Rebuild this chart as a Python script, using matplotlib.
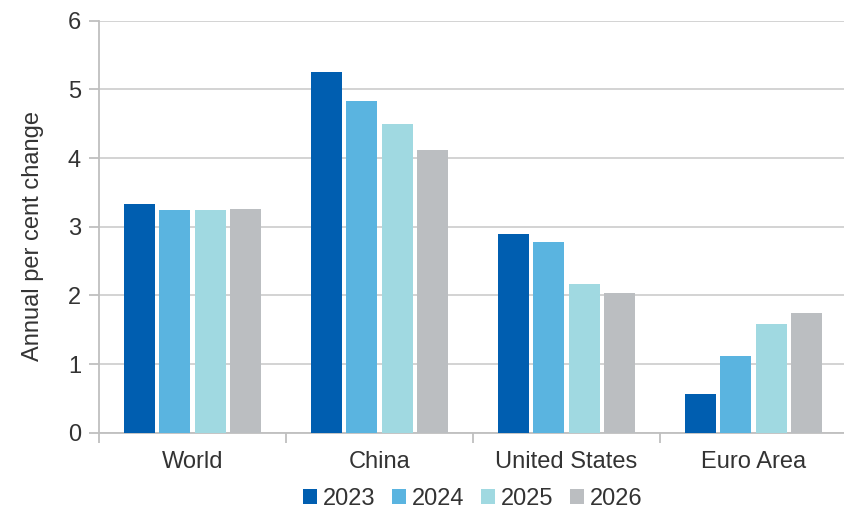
import numpy as np
import matplotlib
matplotlib.use("Agg")
import matplotlib.pyplot as plt
from matplotlib.ticker import FixedLocator

plt.rcParams["font.family"] = ["Liberation Sans", "DejaVu Sans"]

regions = ["World", "China", "United States", "Euro Area"]
years = ["2023", "2024", "2025", "2026"]
growth_2023 = [3.33, 5.25, 2.89, 0.56]
growth_2024 = [3.24, 4.83, 2.77, 1.12]
growth_2025 = [3.25, 4.49, 2.16, 1.59]
growth_2026 = [3.26, 4.11, 2.03, 1.75]
series = [growth_2023, growth_2024, growth_2025, growth_2026]
colors = ["#005EB0", "#5AB4E0", "#A0D9E1", "#BBBEC1"]

W, H = 845, 512
fig = plt.figure(figsize=(W / 100, H / 100), dpi=100)
ax = fig.add_axes([99 / W, (H - 432.7) / H, 748 / W, 412 / H])

x = np.arange(len(regions))
slot = 0.19
width = 0.165
for i, (vals, col, yr) in enumerate(zip(series, colors, years)):
    ax.bar(x + (i - 1.5) * slot, vals, width, color=col, label=yr, zorder=3)

ax.set_xlim(-0.5, 3.5)
ax.set_ylim(0, 6)
ax.set_yticks(range(7))
ax.grid(axis="y", color="#D0D0D0", linewidth=1.3, zorder=0)

grey = "#BFBFBF"
for s in ["top", "right"]:
    ax.spines[s].set_visible(False)
for s in ["left", "bottom"]:
    ax.spines[s].set_color(grey)
    ax.spines[s].set_linewidth(1.3)

ax.set_xticks(x)
ax.set_xticklabels(regions)
ax.xaxis.set_minor_locator(FixedLocator(np.arange(-0.5, 4, 1)))
ax.tick_params(axis="x", which="major", length=0, pad=13, labelsize=17, labelcolor="#333333")
ax.tick_params(axis="x", which="minor", length=7, width=1.3, color=grey)
ax.tick_params(axis="y", length=7, width=1.3, color=grey, labelsize=17,
               labelcolor="#333333", pad=6)

ax.set_ylabel("Annual per cent change", fontsize=17, color="#333333",
              labelpad=17, y=0.477)

fig.legend(loc="center", bbox_to_anchor=(473 / W, (H - 499) / H), ncol=4,
           frameon=False, fontsize=17, handlelength=0.6, handleheight=0.6,
           handletextpad=0.25, columnspacing=0.7, labelcolor="#333333")

fig.savefig("out.png", dpi=100)
